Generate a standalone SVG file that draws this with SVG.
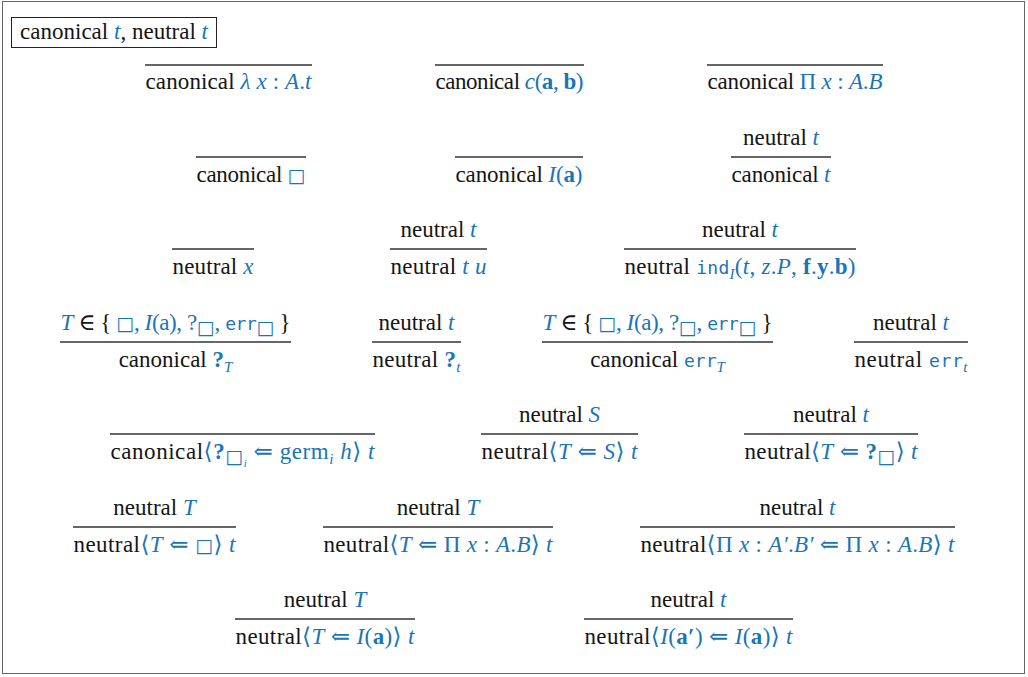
<svg xmlns="http://www.w3.org/2000/svg" width="1028" height="677" viewBox="0 0 1028 677" font-family="Liberation Serif, Tinos, Times New Roman, DejaVu Serif, serif">
<style>
text{font-family:'Liberation Serif',Tinos,'Times New Roman','DejaVu Serif',serif;font-size:23px;fill:#151515}
.b{fill:#1a74b8}
.i{font-style:italic}
.bf{font-weight:bold}
.m{font-family:'DejaVu Sans Mono','Liberation Mono',monospace;font-size:18px}
.s{font-size:15px}
.ss{font-size:11px}
.sym{font-family:'DejaVu Sans',sans-serif;font-size:19px}
.r{stroke:#333;stroke-width:1.3}
</style>
<rect x="2.5" y="1.5" width="1022" height="672" fill="#fff" stroke="#666" stroke-width="1"/>
<g id="title">
<rect x="11.5" y="17.5" width="205" height="30" fill="none" stroke="#222" stroke-width="1"/>
<text x="20" y="39" textLength="188">canonical <tspan class="b i">t</tspan>, neutral <tspan class="b i">t</tspan></text>
</g>
<g id="rules">
<g id="r-lam"><line class="r" x1="145" y1="65" x2="312" y2="65"/>
<text x="228.5" y="89" text-anchor="middle" textLength="166">canonical <tspan class="b"><tspan class="i">λ x</tspan> : <tspan class="i">A</tspan>.<tspan class="i">t</tspan></tspan></text></g>
<g id="r-con"><line class="r" x1="435" y1="65" x2="584" y2="65"/>
<text x="509.5" y="89" text-anchor="middle" textLength="148">canonical <tspan class="b"><tspan class="i">c</tspan>(<tspan class="bf">a</tspan>, <tspan class="bf">b</tspan>)</tspan></text></g>
<g id="r-pi"><line class="r" x1="707" y1="65" x2="883" y2="65"/>
<text x="795" y="89" text-anchor="middle" textLength="175">canonical <tspan class="b">Π <tspan class="i">x</tspan> : <tspan class="i">A</tspan>.<tspan class="i">B</tspan></tspan></text></g>

<g id="r-box"><line class="r" x1="196" y1="157" x2="306" y2="157"/>
<text x="251" y="182" text-anchor="middle" textLength="109">canonical <tspan class="b sym">□</tspan></text></g>
<g id="r-ind"><line class="r" x1="455" y1="157" x2="583" y2="157"/>
<text x="519" y="182" text-anchor="middle" textLength="127">canonical <tspan class="b"><tspan class="i">I</tspan>(<tspan class="bf">a</tspan>)</tspan></text></g>
<g id="r-neu"><line class="r" x1="731" y1="157" x2="831" y2="157"/>
<text x="781" y="145" text-anchor="middle">neutral <tspan class="b i">t</tspan></text>
<text x="781" y="182" text-anchor="middle" textLength="99">canonical <tspan class="b i">t</tspan></text></g>

<g id="r-var"><line class="r" x1="172" y1="249" x2="254" y2="249"/>
<text x="213" y="274" text-anchor="middle" textLength="81">neutral <tspan class="b i">x</tspan></text></g>
<g id="r-app"><line class="r" x1="390" y1="249" x2="487" y2="249"/>
<text x="438.5" y="237" text-anchor="middle">neutral <tspan class="b i">t</tspan></text>
<text x="438.5" y="274" text-anchor="middle" textLength="96">neutral <tspan class="b i">t u</tspan></text></g>
<g id="r-elim"><line class="r" x1="624" y1="249" x2="856" y2="249"/>
<text x="740" y="237" text-anchor="middle">neutral <tspan class="b i">t</tspan></text>
<text x="740" y="274" text-anchor="middle" textLength="231">neutral <tspan class="b"><tspan class="m">ind</tspan><tspan class="i s" dy="5">I</tspan><tspan dy="-5">(</tspan><tspan class="i">t</tspan>, <tspan class="i">z</tspan>.<tspan class="i">P</tspan>, <tspan class="bf">f</tspan>.<tspan class="bf">y</tspan>.<tspan class="bf">b</tspan>)</tspan></text></g>

<g id="r-unk"><line class="r" x1="60" y1="342" x2="291" y2="342"/>
<text x="175.5" y="330" text-anchor="middle" textLength="230"><tspan class="b i">T</tspan> ∈ { <tspan class="b"><tspan class="sym">□</tspan>, <tspan class="i">I</tspan>(a), ?<tspan class="sym s" dy="4">□</tspan><tspan dy="-4">, </tspan><tspan class="m">err</tspan><tspan class="sym s" dy="4">□</tspan></tspan><tspan dy="-4"> }</tspan></text>
<text x="175.5" y="367" text-anchor="middle">canonical <tspan class="b"><tspan class="bf">?</tspan><tspan class="i s" dy="5">T</tspan></tspan></text></g>
<g id="r-unkn"><line class="r" x1="372" y1="342" x2="461" y2="342"/>
<text x="416.5" y="330" text-anchor="middle">neutral <tspan class="b i">t</tspan></text>
<text x="416.5" y="367" text-anchor="middle" textLength="88">neutral <tspan class="b"><tspan class="bf">?</tspan><tspan class="i s" dy="5">t</tspan></tspan></text></g>
<g id="r-err"><line class="r" x1="542" y1="342" x2="773" y2="342"/>
<text x="657.5" y="330" text-anchor="middle" textLength="230"><tspan class="b i">T</tspan> ∈ { <tspan class="b"><tspan class="sym">□</tspan>, <tspan class="i">I</tspan>(a), ?<tspan class="sym s" dy="4">□</tspan><tspan dy="-4">, </tspan><tspan class="m">err</tspan><tspan class="sym s" dy="4">□</tspan></tspan><tspan dy="-4"> }</tspan></text>
<text x="657.5" y="367" text-anchor="middle">canonical <tspan class="b"><tspan class="m">err</tspan><tspan class="i s" dy="5">T</tspan></tspan></text></g>
<g id="r-errn"><line class="r" x1="854" y1="342" x2="968" y2="342"/>
<text x="911" y="330" text-anchor="middle">neutral <tspan class="b i">t</tspan></text>
<text x="911" y="367" text-anchor="middle" textLength="113">neutral <tspan class="b"><tspan class="m">err</tspan><tspan class="i s" dy="5">t</tspan></tspan></text></g>

<g id="r-germ"><line class="r" x1="110" y1="434" x2="375" y2="434"/>
<text x="242.5" y="459" text-anchor="middle" textLength="264">canonical<tspan class="b">⟨<tspan class="bf">?</tspan><tspan class="sym s" dy="4">□</tspan><tspan class="i ss" dy="4">i</tspan><tspan dy="-8"> ⇐ germ</tspan><tspan class="i s" dy="5">i</tspan><tspan class="i" dy="-5"> h</tspan>⟩ <tspan class="i">t</tspan></tspan></text></g>
<g id="r-cast"><line class="r" x1="481" y1="434" x2="638" y2="434"/>
<text x="559.5" y="422" text-anchor="middle">neutral <tspan class="b i">S</tspan></text>
<text x="559.5" y="459" text-anchor="middle" textLength="156">neutral<tspan class="b">⟨<tspan class="i">T</tspan> ⇐ <tspan class="i">S</tspan>⟩ <tspan class="i">t</tspan></tspan></text></g>
<g id="r-castu"><line class="r" x1="744" y1="434" x2="918" y2="434"/>
<text x="831" y="422" text-anchor="middle">neutral <tspan class="b i">t</tspan></text>
<text x="831" y="459" text-anchor="middle" textLength="173">neutral<tspan class="b">⟨<tspan class="i">T</tspan> ⇐ <tspan class="bf">?</tspan><tspan class="sym s" dy="4">□</tspan><tspan dy="-4">⟩ </tspan><tspan class="i">t</tspan></tspan></text></g>

<g id="r-castbox"><line class="r" x1="73" y1="527" x2="236" y2="527"/>
<text x="154.5" y="515" text-anchor="middle">neutral <tspan class="b i">T</tspan></text>
<text x="154.5" y="552" text-anchor="middle" textLength="162">neutral<tspan class="b">⟨<tspan class="i">T</tspan> ⇐ <tspan class="sym">□</tspan>⟩ <tspan class="i">t</tspan></tspan></text></g>
<g id="r-castpi"><line class="r" x1="323" y1="527" x2="553" y2="527"/>
<text x="438" y="515" text-anchor="middle">neutral <tspan class="b i">T</tspan></text>
<text x="438" y="552" text-anchor="middle" textLength="229">neutral<tspan class="b">⟨<tspan class="i">T</tspan> ⇐ Π <tspan class="i">x</tspan> : <tspan class="i">A</tspan>.<tspan class="i">B</tspan>⟩ <tspan class="i">t</tspan></tspan></text></g>
<g id="r-castpipi"><line class="r" x1="640" y1="527" x2="955" y2="527"/>
<text x="797.5" y="515" text-anchor="middle">neutral <tspan class="b i">t</tspan></text>
<text x="797.5" y="552" text-anchor="middle" textLength="314">neutral<tspan class="b">⟨Π <tspan class="i">x</tspan> : <tspan class="i">A′</tspan>.<tspan class="i">B′</tspan> ⇐ Π <tspan class="i">x</tspan> : <tspan class="i">A</tspan>.<tspan class="i">B</tspan>⟩ <tspan class="i">t</tspan></tspan></text></g>

<g id="r-castind"><line class="r" x1="235" y1="619" x2="415" y2="619"/>
<text x="325" y="607" text-anchor="middle">neutral <tspan class="b i">T</tspan></text>
<text x="325" y="644" text-anchor="middle" textLength="179">neutral<tspan class="b">⟨<tspan class="i">T</tspan> ⇐ <tspan class="i">I</tspan>(<tspan class="bf">a</tspan>)⟩ <tspan class="i">t</tspan></tspan></text></g>
<g id="r-castindind"><line class="r" x1="584" y1="619" x2="793" y2="619"/>
<text x="688.5" y="607" text-anchor="middle">neutral <tspan class="b i">t</tspan></text>
<text x="688.5" y="644" text-anchor="middle" textLength="208">neutral<tspan class="b">⟨<tspan class="i">I</tspan>(<tspan class="bf">a′</tspan>) ⇐ <tspan class="i">I</tspan>(<tspan class="bf">a</tspan>)⟩ <tspan class="i">t</tspan></tspan></text></g>
</g>
</svg>
